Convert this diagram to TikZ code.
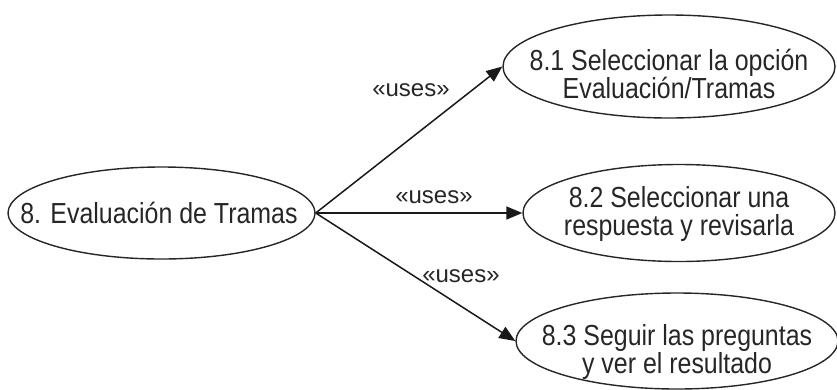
\documentclass[tikz,border=0pt]{standalone}
\usepackage{fontspec}
\setmainfont{Liberation Sans}[FakeStretch=0.86]
\newfontfamily\usesfont{Liberation Sans}
\usetikzlibrary{shapes.geometric,arrows.meta,calc}

\tikzset{
  usecase/.style={ellipse, draw=black!85, line width=1.4pt, inner sep=0pt},
  uctext/.style={align=center, font=\fontsize{29}{28}\selectfont, text=black!85, inner sep=0pt},
  uses/.style={font=\usesfont\fontsize{24}{24}\selectfont, text=black!85, inner sep=0pt},
  rel/.style={draw=black!90, line width=1.5pt, -{Triangle[length=16pt,width=13pt]}},
}

\begin{document}
\begin{tikzpicture}[x=1pt,y=-1pt]
  \useasboundingbox (0,0) rectangle (837,389);

  % base use case
  \node[usecase, minimum width=307pt, minimum height=92pt] (main) at (161.5,213) {};
  \node[uctext] (maintxt) at (159,213) {8. Evaluación de Tramas};

  % included use cases
  \node[usecase, minimum width=332pt, minimum height=103pt] (uc1) at (669,66.5) {};
  \node[uctext] (uc1txt) at (669,74) {8.1 Seleccionar la opción\\Evaluación/Tramas};

  \node[usecase, minimum width=312pt, minimum height=97pt] (uc2) at (679,213) {};
  \node[uctext] (uc2txt) at (679,214) {8.2 Seleccionar una\\respuesta y revisarla};

  \node[usecase, minimum width=322pt, minimum height=96pt] (uc3) at (677,341) {};
  \node[uctext] (uc3txt) at (677,352) {8.3 Seguir las preguntas\\y ver el resultado};

  % <<uses>> relations
  \draw[rel] (main.east) -- (uc1.west);
  \draw[rel] (main.east) -- (uc2.west);
  \draw[rel] (main.east) -- (uc3.west);

  \node[uses] (l1) at (411,90) {«uses»};
  \node[uses] (l2) at (434,197) {«uses»};
  \node[uses] (l3) at (461,276) {«uses»};
\end{tikzpicture}
\end{document}
